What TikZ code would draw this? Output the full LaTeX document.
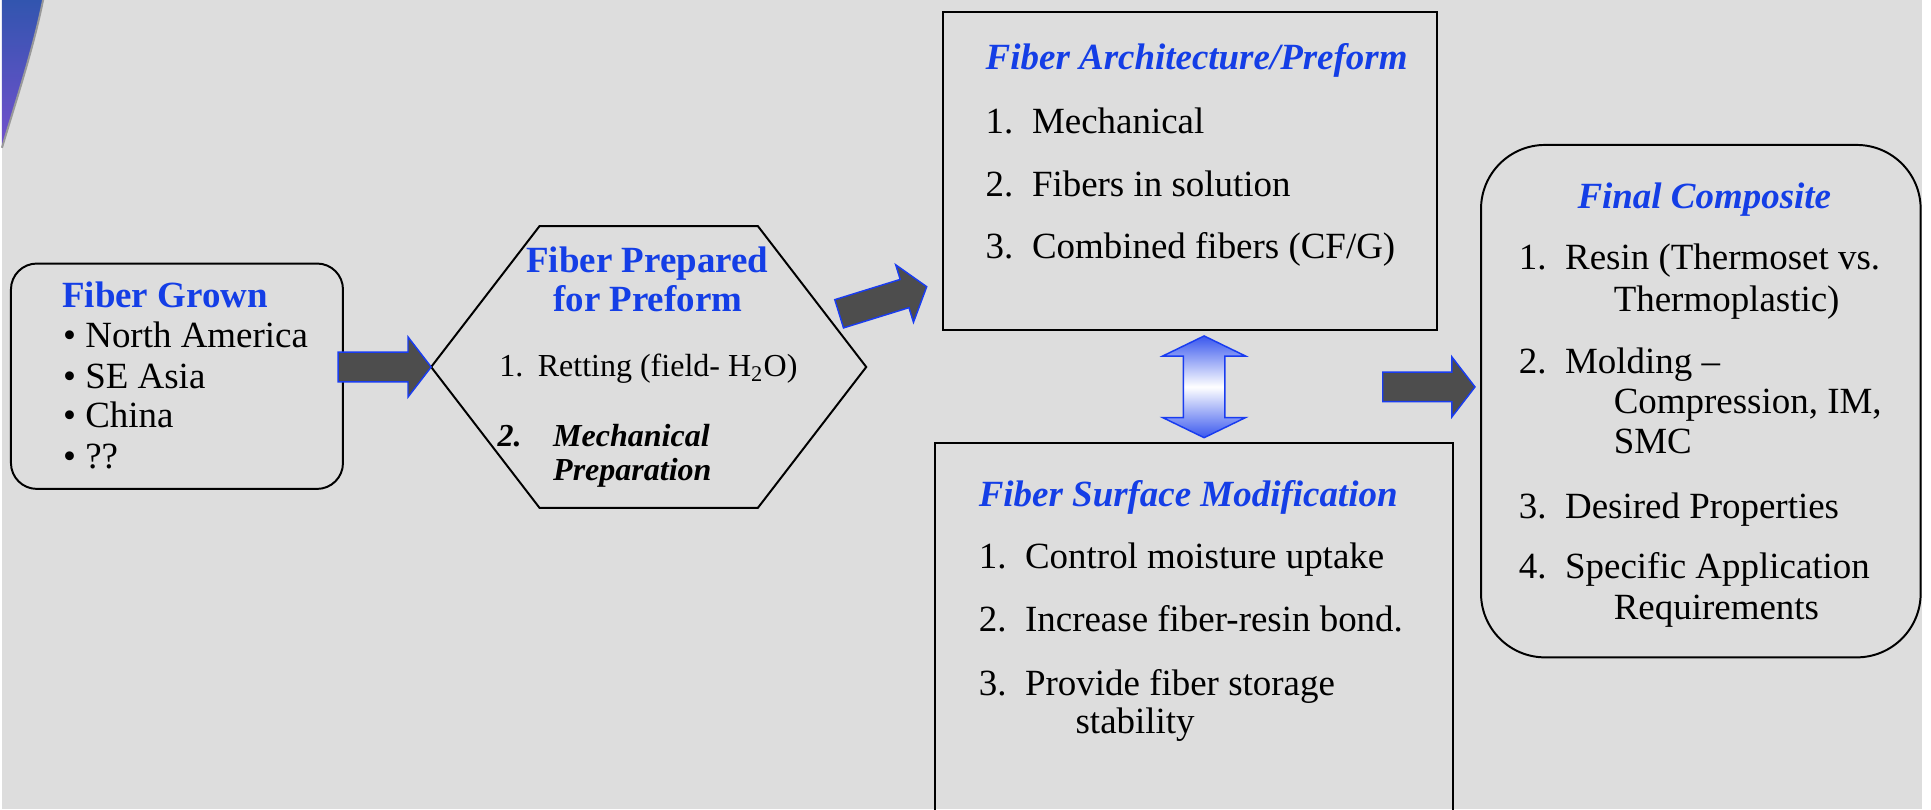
\documentclass[tikz,border=0pt]{standalone}
\usepackage{fontspec}
\setmainfont{Liberation Serif}
\usetikzlibrary{calc,fit}

\definecolor{slide}{RGB}{221,221,221}
\definecolor{ttlblue}{RGB}{20,62,230}
\definecolor{edgeblue}{RGB}{25,60,240}
\definecolor{arrgray}{RGB}{77,77,77}
\definecolor{dblblue}{RGB}{58,88,238}

\newcommand\itemno[2][18.8pt]{\makebox[#1][l]{#2}}
% fat arrow from a start point to a tip
\newcommand\fatarrow[2]{%
  \coordinate (fa-b) at ($(#2)!9.4pt!(#1)$);
  \filldraw[fatarr] ($(#1)!6pt!90:(#2)$) -- ($(fa-b)!6pt!90:(#2)$) -- ($(fa-b)!12.2pt!90:(#2)$)
    -- (#2) -- ($(fa-b)!12.2pt!-90:(#2)$) -- ($(fa-b)!6pt!-90:(#2)$) -- ($(#1)!6pt!-90:(#2)$) -- cycle;
}

\begin{document}
\begin{tikzpicture}[x=0.5pt, y=-0.5pt,
  body/.style={inner sep=0pt, anchor=base west, font=\fontsize{15pt}{16.5pt}\selectfont},
  small/.style={body, font=\fontsize{13pt}{15pt}\selectfont},
  ttl/.style={body, text=ttlblue, font=\fontsize{15pt}{16.5pt}\selectfont\bfseries\itshape},
  ttlup/.style={body, text=ttlblue, font=\fontsize{15pt}{16.5pt}\selectfont\bfseries},
  boxsq/.style={draw, line width=0.8pt, inner sep=0pt},
  boxrd/.style={boxsq, rounded corners=#1},
  fatarr/.style={fill=arrgray, draw=edgeblue, line width=0.6pt, line join=miter},
  dblarr/.style={draw=edgeblue, line width=0.6pt, top color=dblblue, bottom color=dblblue, middle color=white}]
\path[use as bounding box] (0,0) rectangle (1568,657);
\clip (0,0) rectangle (1568,657);
\fill[white] (0,0) rectangle (1568,657);
\fill[slide] (1.6,0) rectangle (1561,657);
% corner swoosh
\shade[top color={rgb,255:red,50;green,85;blue,175}, bottom color={rgb,255:red,115;green,80;blue,205}]
  (1.6,0) -- (35,0) .. controls (27,40) and (12,85) .. (1.6,120) -- cycle;
\draw[gray!80, line width=0.8pt] (35,0) .. controls (27,40) and (12,85) .. (1.6,120);

% boxes
\node[boxrd=10.5pt, fit={(8.9,214) (278.5,397)}] (grown) {};
\node[inner sep=0pt, fit={(350.5,184) (703,412)}] (prep) {};
\draw[line width=0.8pt] (prep.west) -- ($(prep.north west)+(88,0)$) -- ($(prep.north east)+(-88,0)$)
  -- (prep.east) -- ($(prep.south east)+(-88,0)$) -- ($(prep.south west)+(88,0)$) -- cycle;
\node[boxsq, fit={(765.5,9.5) (1166.6,268)}] (arch) {};
\node[boxsq, fit={(759.2,360) (1180,670)}] (surf) {};
\node[boxrd=26pt, fit={(1202.6,117.7) (1559.6,533.8)}] (final) {};

% Fiber Grown
\node[ttlup] (grownT) at (50.1,249.3) {Fiber Grown};
\foreach \i/\y/\t in {1/282/North America, 2/315.3/SE Asia, 3/347.3/China, 4/380.3/??}
  \node[body] (grown\i) at (50.9,\y) {\textbullet\ \t};

% Fiber Prepared
\node[ttlup] (prepT1) at (427,221) {Fiber Prepared};
\node[ttlup, anchor=base] (prepT2) at (526,253) {for Preform};
\node[small] (prep1) at (405,306) {\itemno[15.65pt]{1.}Retting (field- H\textsubscript{2}O)};
\node[small, font=\fontsize{13pt}{15pt}\selectfont\bfseries\itshape] (prep2) at (403.6,362.2) {\itemno[22.6pt]{2.}Mechanical};
\node[small, font=\fontsize{13pt}{15pt}\selectfont\bfseries\itshape] (prep3) at (448.8,390.3) {Preparation};

% Fiber Architecture
\node[ttl] (archT) at (800,56.8) {Fiber Architecture/Preform};
\foreach \i/\y/\t in {1/108.3/Mechanical, 2/159.7/Fibers in solution, 3/209.8/{Combined fibers (CF/G)}}
  \node[body] (arch\i) at (800,\y) {\itemno{\i.}\t};

% Fiber Surface
\node[ttl] (surfT) at (794.4,411.4) {Fiber Surface Modification};
\foreach \i/\y/\t in {1/461.5/Control moisture uptake, 2/512.9/Increase fiber-resin bond., 3/564.4/Provide fiber storage}
  \node[body] (surf\i) at (794.4,\y) {\itemno{\i.}\t};
\node[body] (surf4) at (873,595.5) {stability};

% Final Composite
\node[ttl, anchor=base] (finalT) at (1383.9,169.2) {Final Composite};
\foreach \i/\y/\t in {1/219.2/Resin (Thermoset vs., 2/303.2/Molding --, 3/420.9/Desired Properties, 4/469.6/Specific Application}
  \node[body] (final\i) at (1232.9,\y) {\itemno{\i.}\t};
\foreach \i/\y/\t in {a/253.1/Thermoplastic), b/335.6/{Compression, IM,}, c/368.1/SMC, d/503.4/Requirements}
  \node[body] (final\i) at (1310,\y) {\t};

% arrows
\coordinate (a1s) at (274.5,298);
\coordinate (a2s) at (681.4,254.8);
\coordinate (a2t) at (752.5,232.8);
\coordinate (a3s) at (1122.8,314.2);
\coordinate (a3t) at (1197.7,314.2);
\fatarrow{a1s}{prep.west}
\fatarrow{a2s}{a2t}
\fatarrow{a3s}{a3t}

\coordinate (dbl-t) at ($(arch.south)+(11.7,4)$);
\coordinate (dbl-b) at ($(dbl-t)+(0,82.6)$);
\draw[dblarr] (dbl-t) -- ($(dbl-t)+(33.6,16.3)$) -- ($(dbl-t)+(16.9,16.3)$) -- ($(dbl-b)+(16.9,-16.3)$)
  -- ($(dbl-b)+(33.6,-16.3)$) -- (dbl-b) -- ($(dbl-b)+(-33.6,-16.3)$) -- ($(dbl-b)+(-16.9,-16.3)$)
  -- ($(dbl-t)+(-16.9,16.3)$) -- ($(dbl-t)+(-33.6,16.3)$) -- cycle;
\end{tikzpicture}
\end{document}
